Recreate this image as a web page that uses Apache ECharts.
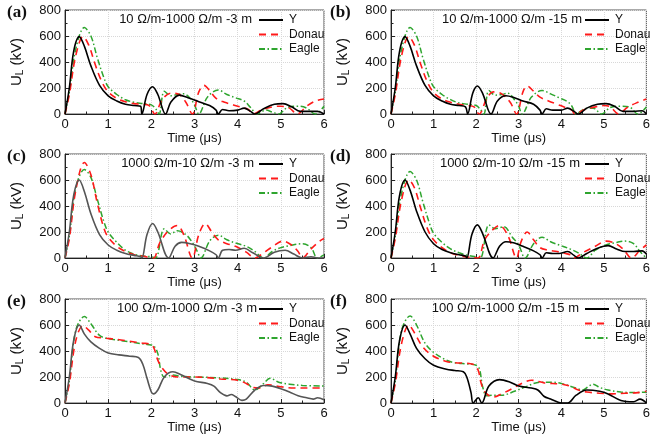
<!DOCTYPE html>
<html><head><meta charset="utf-8">
<script src="https://cdn.jsdelivr.net/npm/echarts@6/dist/echarts.min.js"></script>
<style>html,body{margin:0;padding:0;background:#fff}#c{width:653px;height:439px}</style>
</head><body><div id="c"></div>
<script>
// ---- data (time in µs, U_L in kV) ----
const seriesNames = ['Y', 'Donau', 'Eagle'];
const panelLabels = ['(a)', '(b)', '(c)', '(d)', '(e)', '(f)'];
const panelTitles = ['10 Ω/m-1000 Ω/m -3 m', '10 Ω/m-1000 Ω/m -15 m', '1000 Ω/m-10 Ω/m -3 m',
  '1000 Ω/m-10 Ω/m -15 m', '100 Ω/m-1000 Ω/m -3 m', '100 Ω/m-1000 Ω/m -15 m'];
const xTicks = [0, 1, 2, 3, 4, 5, 6];
const yTicks = [0, 200, 400, 600, 800];

const aY = [[0,0],[0.1,200],[0.2,480],[0.33,595],[0.45,520],[0.6,370],[0.8,220],[1.0,140],[1.2,100],[1.4,75],[1.6,65],[1.75,60],[1.78,0],[1.9,150],[2.03,210],[2.15,150],[2.33,0],[2.45,90],[2.65,145],[2.85,125],[3.1,95],[3.35,65],[3.5,30],[3.55,0],[3.65,35],[3.8,25],[4.0,30],[4.15,45],[4.3,20],[4.4,0],[4.6,40],[4.85,75],[5.05,80],[5.25,55],[5.45,20],[5.65,20],[5.85,20],[6.0,0]];
const aD = [[0,0],[0.1,150],[0.25,450],[0.42,595],[0.55,530],[0.7,380],[0.85,250],[1.0,170],[1.2,120],[1.4,95],[1.6,80],[1.8,75],[1.95,65],[2.08,0],[2.25,110],[2.45,160],[2.65,150],[2.8,90],[2.95,0],[3.1,170],[3.22,220],[3.35,180],[3.5,120],[3.7,90],[3.9,70],[4.1,50],[4.25,35],[4.35,0],[4.55,30],[4.8,55],[5.0,60],[5.2,45],[5.38,0],[5.6,60],[5.8,100],[6.0,115]];
const aE = [[0,0],[0.1,170],[0.25,500],[0.45,665],[0.6,600],[0.75,430],[0.9,280],[1.0,210],[1.2,150],[1.4,110],[1.6,90],[1.8,80],[2.0,70],[2.1,40],[2.18,0],[2.3,175],[2.45,140],[2.6,150],[2.75,155],[2.9,120],[3.0,70],[3.1,0],[3.3,130],[3.55,185],[3.75,150],[3.95,125],[4.15,100],[4.3,50],[4.45,0],[4.65,30],[4.8,15],[4.95,0],[5.15,50],[5.4,60],[5.6,45],[5.8,0],[6.0,60]];

const bY = [[0,0],[0.1,200],[0.2,480],[0.33,595],[0.45,520],[0.6,370],[0.8,220],[1.0,140],[1.2,100],[1.4,75],[1.6,65],[1.75,55],[1.8,0],[1.92,160],[2.03,215],[2.15,160],[2.35,0],[2.5,100],[2.7,140],[2.9,125],[3.1,100],[3.35,75],[3.5,30],[3.55,0],[3.65,40],[3.8,30],[4.0,30],[4.15,45],[4.3,20],[4.4,0],[4.6,45],[4.85,75],[5.05,80],[5.25,60],[5.45,20],[5.7,20],[5.9,25],[6.0,0]];
const bD = [[0,0],[0.1,150],[0.25,450],[0.42,595],[0.55,530],[0.7,380],[0.85,250],[1.0,165],[1.2,115],[1.4,90],[1.6,75],[1.8,65],[1.95,55],[2.07,0],[2.25,120],[2.4,170],[2.6,155],[2.8,90],[2.95,0],[3.1,170],[3.2,215],[3.35,175],[3.5,130],[3.7,100],[3.9,75],[4.1,50],[4.25,30],[4.32,0],[4.55,35],[4.8,55],[5.0,65],[5.15,55],[5.35,0],[5.55,50],[5.8,90],[6.0,115]];
const bE = [[0,0],[0.1,170],[0.25,500],[0.45,665],[0.6,600],[0.75,430],[0.9,280],[1.0,210],[1.2,150],[1.4,110],[1.6,85],[1.8,75],[2.0,65],[2.1,35],[2.18,0],[2.3,180],[2.45,145],[2.6,150],[2.75,160],[2.9,110],[3.0,60],[3.08,0],[3.3,130],[3.55,180],[3.75,155],[3.95,125],[4.15,95],[4.25,60],[4.35,0],[4.55,40],[4.75,45],[4.95,0],[5.15,50],[5.4,60],[5.6,55],[5.8,0],[6.0,55]];

const cY = [[0,0],[0.1,200],[0.2,480],[0.33,600],[0.45,510],[0.6,340],[0.8,180],[1.0,100],[1.2,60],[1.4,35],[1.6,20],[1.75,10],[1.78,0],[1.9,180],[2.03,265],[2.15,200],[2.4,0],[2.55,90],[2.7,120],[2.9,110],[3.1,90],[3.35,55],[3.5,25],[3.55,0],[3.65,60],[3.8,65],[3.95,60],[4.15,75],[4.35,40],[4.6,0],[4.85,45],[5.1,60],[5.3,30],[5.5,0],[5.7,10],[5.85,0],[6.0,0]];
const cD = [[0,0],[0.1,150],[0.25,520],[0.45,735],[0.6,640],[0.75,420],[0.9,230],[1.0,160],[1.2,90],[1.4,50],[1.6,25],[1.8,15],[1.95,5],[2.05,0],[2.2,120],[2.4,210],[2.6,250],[2.75,180],[2.95,0],[3.1,180],[3.25,265],[3.4,200],[3.55,140],[3.75,110],[3.95,90],[4.2,45],[4.4,0],[4.6,40],[4.8,85],[5.05,130],[5.25,100],[5.4,50],[5.5,0],[5.7,70],[5.9,130],[6.0,150]];
const cE = [[0,0],[0.1,170],[0.25,540],[0.45,680],[0.6,620],[0.75,450],[0.9,280],[1.0,200],[1.2,120],[1.4,60],[1.6,30],[1.8,15],[2.0,10],[2.1,0],[2.3,225],[2.45,185],[2.6,210],[2.8,180],[2.95,120],[3.05,60],[3.15,0],[3.35,130],[3.55,175],[3.75,140],[3.95,115],[4.2,90],[4.4,50],[4.6,0],[4.8,50],[5.0,80],[5.2,95],[5.5,110],[5.7,80],[5.85,0],[6.0,25]];

const dY = [[0,0],[0.1,200],[0.2,480],[0.33,600],[0.45,520],[0.6,360],[0.8,200],[1.0,110],[1.2,65],[1.4,40],[1.6,25],[1.75,15],[1.78,0],[1.9,180],[2.03,255],[2.15,190],[2.4,0],[2.55,90],[2.7,125],[2.9,115],[3.1,90],[3.35,55],[3.5,25],[3.55,0],[3.65,40],[3.8,35],[3.95,35],[4.15,50],[4.3,20],[4.4,0],[4.6,35],[4.85,75],[5.1,95],[5.3,70],[5.5,50],[5.7,50],[5.9,55],[6.0,30]];
const dD = [[0,0],[0.1,150],[0.25,450],[0.42,600],[0.55,540],[0.7,380],[0.85,230],[1.0,140],[1.2,80],[1.4,40],[1.6,20],[1.8,8],[1.95,3],[2.05,0],[2.2,140],[2.4,220],[2.55,250],[2.75,170],[2.95,0],[3.05,120],[3.2,200],[3.35,140],[3.5,80],[3.7,60],[3.9,50],[4.1,35],[4.25,20],[4.3,0],[4.5,40],[4.8,90],[5.05,130],[5.25,115],[5.45,70],[5.65,0],[5.85,60],[6.0,100]];
const dE = [[0,0],[0.1,170],[0.25,500],[0.45,665],[0.6,600],[0.75,430],[0.9,270],[1.0,190],[1.2,120],[1.4,70],[1.6,40],[1.8,20],[2.0,8],[2.1,0],[2.3,255],[2.45,225],[2.65,240],[2.85,160],[3.0,100],[3.15,0],[3.35,110],[3.55,160],[3.75,125],[3.95,100],[4.2,70],[4.4,40],[4.6,0],[4.8,60],[5.05,100],[5.3,120],[5.5,130],[5.7,110],[5.85,50],[6.0,0]];

const eY = [[0,0],[0.1,200],[0.2,480],[0.33,600],[0.45,530],[0.6,470],[0.8,420],[1.0,385],[1.25,370],[1.5,360],[1.7,350],[1.8,300],[1.9,190],[2.0,85],[2.05,70],[2.15,100],[2.3,200],[2.5,240],[2.7,215],[3.0,170],[3.3,150],[3.45,130],[3.6,80],[3.75,55],[3.85,65],[3.95,50],[4.1,20],[4.2,30],[4.4,100],[4.6,135],[4.8,130],[5.0,110],[5.2,85],[5.4,55],[5.6,40],[5.75,30],[5.85,40],[6.0,25]];
const eD = [[0,0],[0.1,150],[0.25,480],[0.42,595],[0.55,560],[0.7,510],[0.9,500],[1.2,490],[1.5,475],[1.8,460],[1.95,455],[2.05,430],[2.15,330],[2.25,270],[2.4,220],[2.6,200],[3.0,200],[3.3,195],[3.6,185],[4.0,175],[4.2,150],[4.35,120],[4.5,115],[4.7,140],[5.0,125],[5.3,115],[5.6,115],[6.0,115]];
const eE = [[0,0],[0.1,170],[0.25,560],[0.45,665],[0.6,610],[0.8,520],[1.0,495],[1.3,480],[1.6,465],[1.9,450],[2.05,440],[2.15,380],[2.22,250],[2.3,200],[2.5,215],[2.7,205],[3.0,200],[3.5,195],[4.0,180],[4.2,160],[4.4,100],[4.6,150],[4.75,190],[4.95,160],[5.2,145],[5.5,135],[6.0,130]];

const fY = [[0,0],[0.1,200],[0.2,480],[0.33,600],[0.45,530],[0.6,420],[0.8,340],[1.0,290],[1.3,260],[1.5,250],[1.7,240],[1.78,200],[1.88,80],[1.93,0],[2.05,40],[2.13,0],[2.3,130],[2.55,180],[2.8,160],[3.0,130],[3.3,115],[3.45,100],[3.6,50],[3.75,30],[3.9,10],[4.0,0],[4.15,0],[4.35,60],[4.6,100],[4.9,90],[5.1,70],[5.4,20],[5.7,10],[5.85,30],[6.0,0]];
const fD = [[0,0],[0.1,150],[0.25,460],[0.42,600],[0.55,540],[0.75,430],[1.0,360],[1.3,320],[1.5,310],[1.8,305],[1.95,295],[2.05,250],[2.12,150],[2.22,80],[2.4,45],[2.6,70],[2.9,120],[3.1,155],[3.3,175],[3.6,155],[4.0,145],[4.2,130],[4.4,100],[4.6,85],[4.9,75],[5.2,70],[5.5,75],[5.8,80],[6.0,90]];
const fE = [[0,0],[0.1,170],[0.25,560],[0.45,670],[0.6,600],[0.8,460],[1.0,390],[1.3,330],[1.5,310],[1.8,300],[2.0,290],[2.08,260],[2.15,130],[2.25,55],[2.4,60],[2.6,60],[2.9,90],[3.2,130],[3.5,160],[3.8,160],[4.0,150],[4.3,120],[4.5,100],[4.65,130],[4.75,145],[4.9,120],[5.1,100],[5.4,85],[5.7,80],[6.0,85]];

const panelData = [[aY,aD,aE],[bY,bD,bE],[cY,cD,cE],[dY,dD,dE],[eY,eD,eE],[fY,fD,fE]];

// ---- layout & style ----
const yColors = ['#000', '#000', '#555', '#000', '#555', '#000'];
const gridLeft = [65, 391];
const gridTop = [10, 154, 299];
const gridW = 259, gridH = 104;
const titleRight = [401, 71, 399, 73, 396, 74];

const grids = [], xAxes = [], yAxes = [], series = [], titles = [], legends = [], graphics = [];
const FONT = 'Liberation Sans, Arial, sans-serif';
for (let p = 0; p < 6; p++) {
  const col = p % 2, row = Math.floor(p / 2);
  const L = gridLeft[col], T = gridTop[row];
  grids.push({left: L, top: T, width: gridW, height: gridH, show: true, borderColor: '#555', borderWidth: 1, backgroundColor: 'transparent'});
  xAxes.push({
    type: 'value', gridIndex: p, min: xTicks[0], max: xTicks[xTicks.length - 1], interval: 1,
    name: 'Time (μs)', nameLocation: 'middle', nameGap: 17,
    nameTextStyle: {fontFamily: FONT, fontSize: 13, color: '#111', verticalAlign: 'top'},
    axisLine: {show: true, onZero: false, lineStyle: {color: '#222', width: 1}},
    axisTick: {show: true, inside: true, length: 4, lineStyle: {color: '#222'}},
    minorTick: {show: true, splitNumber: 2, length: 2.5, lineStyle: {color: '#222'}},
    axisLabel: {fontFamily: FONT, fontSize: 13, color: '#111', margin: 4},
    splitLine: {show: true, lineStyle: {color: '#d8d8d8', type: 'dotted', width: 1}}
  });
  yAxes.push({
    type: 'value', gridIndex: p, min: yTicks[0], max: yTicks[yTicks.length - 1], interval: 200,
    name: '{u|U}{s|L}{u| (kV)}', nameLocation: 'middle', nameGap: 40, nameRotate: 90,
    nameTextStyle: {rich: {u: {fontFamily: FONT, fontSize: 15, color: '#111'}, s: {fontFamily: FONT, fontSize: 10, color: '#111', padding: [6, 0, 0, 0]}}},
    axisLine: {show: true, lineStyle: {color: '#222', width: 1}},
    axisTick: {show: true, inside: true, length: 4, lineStyle: {color: '#222'}},
    minorTick: {show: true, splitNumber: 2, length: 2.5, lineStyle: {color: '#222'}},
    axisLabel: {fontFamily: FONT, fontSize: 13, color: '#111', margin: 4},
    splitLine: {show: true, lineStyle: {color: '#d8d8d8', type: 'dotted', width: 1}}
  });
  const styles = [
    {color: yColors[p], type: 'solid', width: 1.6},
    {color: '#ff1a1a', type: [7, 5], width: 1.6},
    {color: '#2ea52e', type: [6, 2.5, 1.5, 2.5], width: 1.5}
  ];
  const order = [1, 2, 0];
  order.forEach(k => {
    series.push({
      type: 'line', name: seriesNames[k], xAxisIndex: p, yAxisIndex: p,
      data: panelData[p][k], showSymbol: false, symbol: 'none', smooth: 0.35,
      lineStyle: styles[k], itemStyle: {color: styles[k].color}, z: 3 - k, clip: true
    });
  });
  titles.push({
    text: panelTitles[p], right: titleRight[p], top: T + 3, padding: 0,
    textStyle: {fontFamily: FONT, fontSize: 13, fontWeight: 'normal', color: '#111'}
  });
  legends.push({
    data: seriesNames, orient: 'vertical', left: L + 193, top: T + 4, padding: 0,
    itemWidth: 24, itemHeight: 12, itemGap: 2.5, selectedMode: false,
    itemStyle: {color: 'rgba(0,0,0,0)', borderWidth: 0, opacity: 0},
    textStyle: {fontFamily: FONT, fontSize: 12, color: '#111', padding: [0, 0, 0, 1]}
  });
  graphics.push({
    type: 'text', left: col === 0 ? 7 : 330, top: T - 6,
    style: {text: panelLabels[p], font: 'bold 17px "Liberation Serif", "Times New Roman", serif', fill: '#111'}
  });
}

const chart = echarts.init(document.getElementById('c'), null, {renderer: 'canvas'});
chart.setOption({
  animation: false, backgroundColor: '#fff',
  title: titles, legend: legends, grid: grids, xAxis: xAxes, yAxis: yAxes, series: series, graphic: graphics
});
</script></body></html>
